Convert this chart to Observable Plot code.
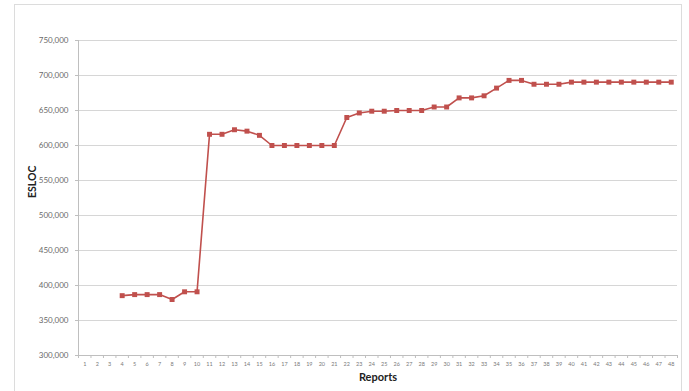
<!DOCTYPE html>
<html>
<head>
<meta charset="utf-8">
<script src="https://cdn.jsdelivr.net/npm/d3@7"></script>
<script src="https://cdn.jsdelivr.net/npm/@observablehq/plot@0.6"></script>
<style>
  html, body { margin: 0; padding: 0; background: #fff; }
  #wrap { position: relative; width: 689px; height: 391px; overflow: hidden; }
  #border { position: absolute; left: 14px; top: 4px; width: 668px; height: 400px; border: 1px solid #dcdcdc; box-sizing: border-box; }
  #chart { position: absolute; left: 0; top: 0; }
</style>
</head>
<body>
<div id="wrap">
  <div id="border"></div>
  <div id="chart"></div>
</div>
<script>
// Report numbers that carry an ESLOC count
const reports = [4, 5, 6, 7, 8, 9, 10, 11, 12, 13, 14, 15, 16, 17, 18, 19, 20, 21, 22, 23, 24, 25,
  26, 27, 28, 29, 30, 31, 32, 33, 34, 35, 36, 37, 38, 39, 40, 41, 42, 43, 44, 45, 46, 47, 48];

// Estimated source lines of code per report
const esloc = [385500, 387000, 387000, 387000, 380000, 391000, 391000, 616000, 616000, 622500,
  620500, 614500, 600000, 600000, 600000, 600000, 600000, 600000, 640000, 646500, 649000,
  649000, 650000, 650000, 650000, 655000, 655000, 668000, 668000, 671000, 682000, 693000,
  693000, 687500, 687500, 687500, 690500, 690500, 690500, 690500, 690500, 690500, 690500,
  690500, 690500];

// Axis ticks
const xTicks = [1, 2, 3, 4, 5, 6, 7, 8, 9, 10, 11, 12, 13, 14, 15, 16, 17, 18, 19, 20, 21, 22, 23, 24,
  25, 26, 27, 28, 29, 30, 31, 32, 33, 34, 35, 36, 37, 38, 39, 40, 41, 42, 43, 44, 45, 46, 47, 48];
const yTicks = [300000, 350000, 400000, 450000, 500000, 550000, 600000, 650000, 700000, 750000];

const data = reports.map((r, i) => ({report: r, esloc: esloc[i]}));
// Category boundaries for the small tick marks on the x axis
const boundaries = [0.5, ...xTicks.map(d => d + 0.5)];

const red = "#c0504d";

const chart = Plot.plot({
  width: 689,
  height: 391,
  marginLeft: 78,
  marginRight: 12,
  marginTop: 40,
  marginBottom: 36,
  style: {fontFamily: "Lato, 'Open Sans', sans-serif", background: "transparent", overflow: "visible"},
  x: {domain: [0.5, 48.5], axis: null},
  y: {domain: [300000, 750000], axis: null},
  marks: [
    Plot.ruleY(yTicks.slice(1), {stroke: "#d6d6d6", strokeWidth: 1}),
    Plot.ruleY([300000], {stroke: "#bfbfbf", strokeWidth: 1}),
    Plot.ruleX([0.5], {stroke: "#bfbfbf", strokeWidth: 1}),
    Plot.axisY({
      ticks: yTicks,
      tickFormat: d3.format(","),
      tickSize: 3,
      tickPadding: 7,
      stroke: "#bfbfbf",
      fill: "#6a6a6a",
      fontSize: 8,
      label: null
    }),
    Plot.axisX({
      ticks: boundaries,
      tickSize: 3,
      tickFormat: () => "",
      stroke: "#bfbfbf",
      label: null
    }),
    Plot.axisX({
      ticks: xTicks,
      tickSize: 0,
      tickPadding: 7,
      tickFormat: d => String(d),
      fill: "#7a7a7a",
      fontSize: 5.5,
      label: null
    }),
    Plot.line(data, {x: "report", y: "esloc", stroke: red, strokeWidth: 1.6}),
    Plot.dot(data, {x: "report", y: "esloc", symbol: "square", r: 2.8, fill: red, stroke: "none"}),
    Plot.text(["ESLOC"], {
      frameAnchor: "left", dx: -46, rotate: -90,
      fontWeight: "bold", fontSize: 10.5, fill: "#222"
    }),
    Plot.text(["Reports"], {
      frameAnchor: "bottom", dy: 25,
      fontWeight: "bold", fontSize: 11, fill: "#222"
    })
  ]
});

document.getElementById("chart").append(chart);
</script>
</body>
</html>
